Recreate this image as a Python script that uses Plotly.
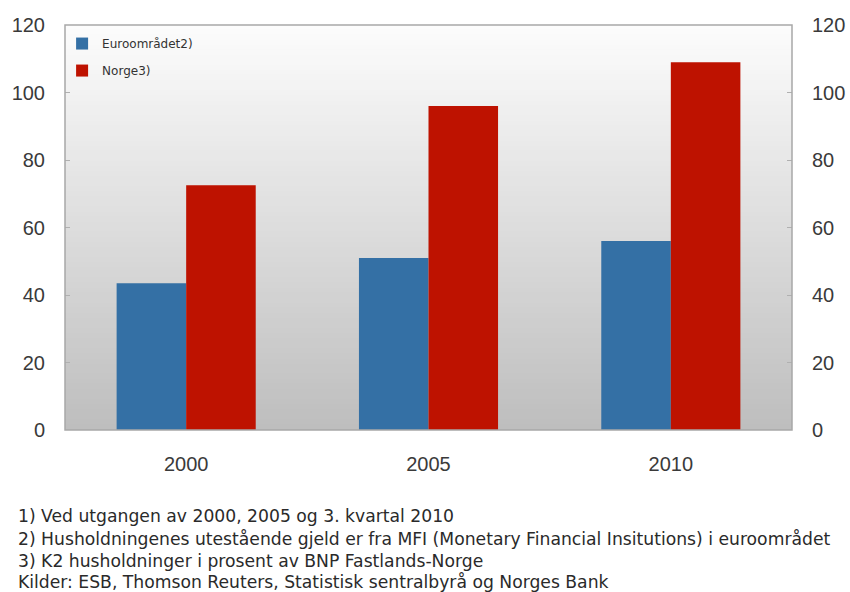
import plotly.graph_objects as go

years = ["2000", "2005", "2010"]
euro = [43.5, 51.0, 56.0]
norge = [72.5, 96.0, 109.0]
series_names = ["Euroområdet2)", "Norge3)"]
yticks = [0, 20, 40, 60, 80, 100, 120]
footnotes = [
    "1) Ved utgangen av 2000, 2005 og 3. kvartal 2010",
    "2) Husholdningenes utestående gjeld er fra MFI (Monetary Financial Insitutions) i euroområdet",
    "3) K2 husholdninger i prosent av BNP Fastlands-Norge",
    "Kilder: ESB, Thomson Reuters, Statistisk sentralbyrå og Norges Bank",
]

W, H = 850, 592
L, R, T, B = 65, 792, 25, 430

fig = go.Figure()
fig.add_trace(go.Bar(x=years, y=euro, name=series_names[0], legendgroup="a",
                     marker=dict(color="#3470a5", line=dict(width=0))))
fig.add_trace(go.Bar(x=years, y=norge, name=series_names[1], legendgroup="b",
                     marker=dict(color="#be1200", line=dict(width=0))))
# invisible trace for right axis
fig.add_trace(go.Scatter(x=years, y=[None]*3, yaxis="y2", showlegend=False, hoverinfo="skip"))

# gradient background
n = 80
shapes = []
for i in range(n):
    f = i / (n - 1)
    c = int(round(252 - (252 - 190) * f))
    shapes.append(dict(type="rect", xref="paper", yref="paper", x0=0, x1=1,
                       y0=1 - (i + 1) / n, y1=1 - i / n + 0.002,
                       fillcolor=f"rgb({c},{c},{c})", line=dict(width=0), layer="below"))
shapes.append(dict(type="rect", xref="paper", yref="paper", x0=0, x1=1, y0=0, y1=1,
                   line=dict(color="#a8a8a8", width=1.5), layer="above"))
fig.update_layout(shapes=shapes)

tickfont = dict(family="Liberation Sans, Arial, sans-serif", size=20, color="#3a3a3a")
fig.update_layout(
    width=W, height=H,
    margin=dict(l=L, r=W - R, t=T, b=H - B, autoexpand=False),
    paper_bgcolor="white", plot_bgcolor="rgba(0,0,0,0)",
    barmode="group", bargap=0.426, bargroupgap=0,
    xaxis=dict(showgrid=False, showline=False, ticks="", tickfont=tickfont, ticklabelstandoff=20),
    yaxis=dict(range=[0, 120], tickvals=yticks, showgrid=False, zeroline=False, showline=False,
               ticks="inside", ticklen=5, tickcolor="#b0b0b0", tickfont=tickfont, ticklabelstandoff=19),
    yaxis2=dict(range=[0, 120], tickvals=yticks, overlaying="y", side="right", showgrid=False,
                zeroline=False, showline=False, ticks="inside", ticklen=5, tickcolor="#b0b0b0",
                tickfont=tickfont, ticklabelstandoff=19),
    legend=dict(x=-0.004, y=0.99, xanchor="left", yanchor="top", bgcolor="rgba(0,0,0,0)",
                font=dict(family="DejaVu Sans, sans-serif", size=12, color="#333"),
                itemwidth=30, tracegroupgap=8, traceorder="grouped"),
    showlegend=True,
)

ys = [516, 538.5, 560.5, 581.5]
for t, yy in zip(footnotes, ys):
    fig.add_annotation(text=t, xref="paper", yref="paper", x=(16 - L) / (R - L),
                       y=(B - yy) / (B - T), xanchor="left", yanchor="middle",
                       showarrow=False,
                       font=dict(family="DejaVu Sans, sans-serif", size=17.2, color="#2a2a2a"))

fig.write_html("out.html")
